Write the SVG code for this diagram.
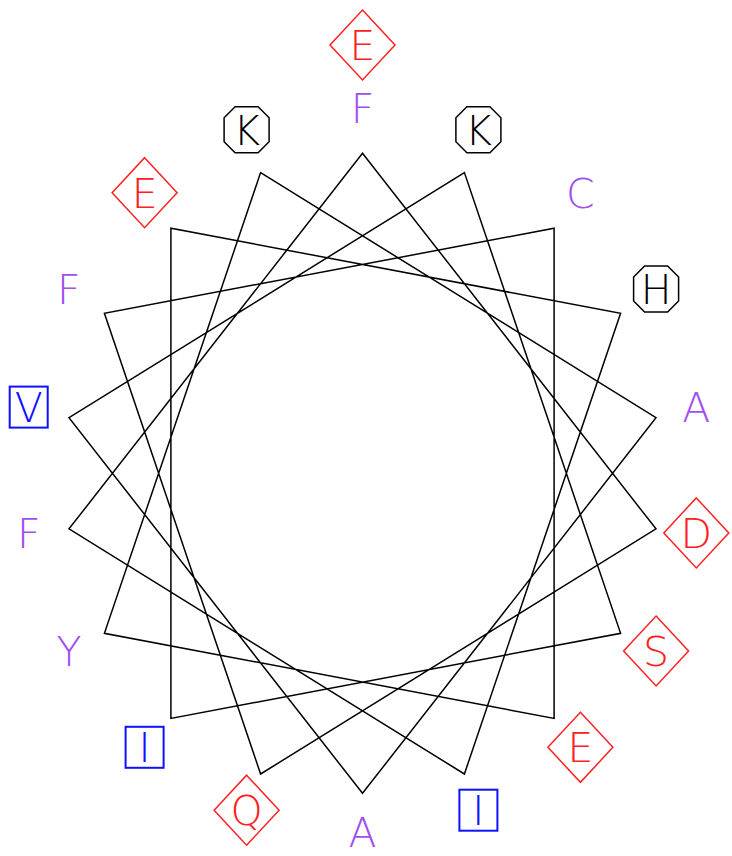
<svg xmlns="http://www.w3.org/2000/svg" xmlns:xlink="http://www.w3.org/1999/xlink" width="732" height="856" viewBox="0 0 732 856">
<style>
text{font-family:"DejaVu Sans","Liberation Sans",sans-serif;font-weight:200;font-size:41px;text-anchor:middle}
.p{fill:#a050f0}
.r{fill:#ff2020}
.b{fill:#1010ff}
.k{fill:#000}
.dia{fill:none;stroke:#ff2020;stroke-width:1.5}
.sq{fill:none;stroke:#1010ff;stroke-width:2}
.oct{fill:none;stroke:#000;stroke-width:1.5}
.wheel{fill:none;stroke:#000;stroke-width:1.5;stroke-linejoin:miter}
</style>
<defs>
<polygon id="diamond" class="dia" points="0,-35 32.5,0 0,35 -32.5,0"/>
<rect id="square" class="sq" x="-19" y="-20.5" width="38" height="41"/>
<polygon id="octagon" class="oct" points="-11.5,-23 11.5,-23 22.5,-12 22.5,12 11.5,23 -11.5,23 -22.5,12 -22.5,-12"/>
</defs>
<rect width="732" height="856" fill="#fff"/>
<g id="connectors">
<polygon class="wheel" points="362.5,153.3 656,528.9 260.6,774 104.4,313.3 554.1,228.2 554.1,718.4 104.4,633.3 260.6,172.6 656,417.7 362.5,793.3 69,417.7 464.4,172.6 620.6,633.3 170.9,718.4 170.9,228.2 620.6,313.3 464.4,774 69,528.9"/>
</g>
<g id="n19" transform="translate(362.5,45)"><use href="#diamond"/><text class="r" y="15">E</text></g>
<g id="n1" transform="translate(362.5,108)"><text class="p" y="15">F</text></g>
<g id="n20" transform="translate(478.4,129.8)"><use href="#octagon"/><text class="k" y="15">K</text></g>
<g id="n40" transform="translate(580.4,192.7)"><text class="p" y="15">C</text></g>
<g id="n60" transform="translate(656.1,289)"><use href="#octagon"/><text class="k" y="15">H</text></g>
<g id="n80" transform="translate(696.3,407.1)"><text class="p" y="15">A</text></g>
<g id="n100" transform="translate(696.3,532.9)"><use href="#diamond"/><text class="r" y="15">D</text></g>
<g id="n120" transform="translate(656.1,651)"><use href="#diamond"/><text class="r" y="15">S</text></g>
<g id="n140" transform="translate(580.4,747.3)"><use href="#diamond"/><text class="r" y="15">E</text></g>
<g id="n160" transform="translate(478.4,810.2)"><use href="#square"/><text class="b" y="15">I</text></g>
<g id="n180" transform="translate(362.5,832)"><text class="p" y="15">A</text></g>
<g id="n200" transform="translate(246.6,810.2)"><use href="#diamond"/><text class="r" y="15">Q</text></g>
<g id="n220" transform="translate(144.6,747.3)"><use href="#square"/><text class="b" y="15">I</text></g>
<g id="n240" transform="translate(68.9,651)"><text class="p" y="15">Y</text></g>
<g id="n260" transform="translate(28.7,532.9)"><text class="p" y="15">F</text></g>
<g id="n280" transform="translate(28.7,407.1)"><use href="#square"/><text class="b" y="15">V</text></g>
<g id="n300" transform="translate(68.9,289)"><text class="p" y="15">F</text></g>
<g id="n320" transform="translate(144.6,192.7)"><use href="#diamond"/><text class="r" y="15">E</text></g>
<g id="n340" transform="translate(246.6,129.8)"><use href="#octagon"/><text class="k" y="15">K</text></g>
</svg>
